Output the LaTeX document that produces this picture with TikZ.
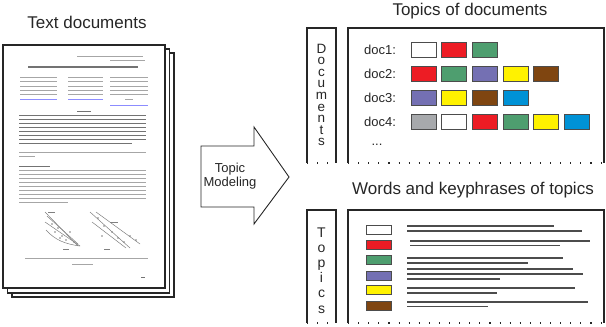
\documentclass[tikz,border=0pt]{standalone}
\usepackage{fontspec}
\setmainfont{Liberation Sans}
\definecolor{cred}{HTML}{ED1C24}
\definecolor{cgreen}{HTML}{4E9E6F}
\definecolor{cpurple}{HTML}{7470B3}
\definecolor{cyellow}{HTML}{FFF200}
\definecolor{cbrown}{HTML}{7F4510}
\definecolor{cblue}{HTML}{0092D6}
\definecolor{cgray}{HTML}{A7A9AC}
\definecolor{cwhite}{HTML}{FFFFFF}
\tikzset{
  page/.style={draw=black!85,fill=white,line width=1.1pt},
  txtline/.style={black!35,line width=0.9pt},
  darkline/.style={black!55,line width=0.9pt},
  blueline/.style={blue!45,line width=0.9pt},
  wordline/.style={black!70,line width=1.2pt},
  frame/.style={black!85,line width=1.1pt},
  dotbot/.style={black!85,line width=1.1pt,dash pattern=on 1.1pt off 9pt},
  swatch/.style={draw=black!70,line width=0.8pt,minimum width=25pt,minimum height=15pt,inner sep=0pt},
  lswatch/.style={draw=black!70,line width=0.8pt,minimum width=25pt,minimum height=9pt,inner sep=0pt},
  title/.style={font=\fontsize{17}{19}\selectfont,text=black!85,inner sep=0pt},
  lbl/.style={font=\fontsize{13}{15}\selectfont,text=black!85,inner sep=0pt},
  vlet/.style={font=\fontsize{13.5}{15}\selectfont,text=black!85,inner sep=0pt},
}
\begin{document}
\begin{tikzpicture}[x=1pt,y=-1pt]
\useasboundingbox (0,0) rectangle (606,327);
% ---------- text documents ----------
\node[title] (ttext) at (87,22) {Text documents};
\draw[page] (12,53) rectangle (174,297);
\draw[page] (7.5,49) rectangle (169.5,293);
\draw[page] (3,45) rectangle (165,288);
% header
\draw[txtline] (77,56) -- (143,56);
\draw[txtline] (110,60) -- (145,60);
% title
\draw[darkline,line width=1.2pt] (28,67) -- (138,67);
% authors
\foreach \y in {77,81,86,90,94} {
  \draw[txtline] (20,\y) -- (57,\y);
  \draw[txtline] (68,\y) -- (103,\y);
  \draw[txtline] (110,\y) -- (148,\y);
}
\draw[blueline] (20,99) -- (57,99);
\draw[blueline] (68,99) -- (103,99);
\draw[txtline] (125,99) -- (133,99);
\draw[blueline] (110,105) -- (148,105);
% abstract
\draw[darkline] (77,111) -- (91,111);
\foreach \y in {115,119,123,127,131,135,139} {\draw[darkline] (19,\y) -- (146,\y);}
\draw[darkline] (19,143) -- (132,143);
% keywords
\draw[txtline] (19,152) -- (146,152);
\draw[txtline] (19,156) -- (35,156);
% introduction
\draw[darkline] (19,166) -- (50,166);
\foreach \y in {170,174,178,182,186,190,194,198} {\draw[txtline] (19,\y) -- (146,\y);}
\draw[txtline] (19,202) -- (68,202);
% figures
\begin{scope}[black!50,line width=0.5pt]
  \draw (45,212) -- (78,246);
  \draw (47,216) -- (78,244);
  \draw (45,222) -- (80,246);
  \draw (46,230) .. controls (55,240) and (65,244) .. (80,246);
  \draw (48,212) -- (55,212);
  \foreach \p in {(52,224),(58,228),(62,236),(66,240),(70,232),(60,238),(74,242),(55,232)} {\fill \p circle (0.8pt);}
  \draw (90,212) -- (130,248);
  \draw (92,222) -- (126,248);
  \draw (96,212) -- (140,244);
  \draw (110,222) -- (118,222);
  \foreach \p in {(98,218),(104,226),(112,232),(118,238),(124,242),(130,236),(136,240),(102,236)} {\fill \p circle (0.8pt);}
  \draw (63,249) -- (69,249);
  \draw (104,249) -- (110,249);
\end{scope}
% caption
\draw[txtline] (25,258) -- (148,258);
\draw[txtline] (72,264) -- (93,264);
\draw[darkline] (141,277) -- (145,277);
% ---------- arrow ----------
\draw[black!85,line width=0.9pt,fill=white] (201,146) -- (254,146) -- (254,127) -- (289,177) -- (254,224) -- (254,207) -- (201,207) -- cycle;
\node[lbl,align=center] (tm) at (230,176) {Topic\\[-1pt]Modeling};
% ---------- topics of documents ----------
\node[title] (ttop) at (470,11) {Topics of documents};
\draw[frame] (307,163) -- (307,28) -- (336,28) -- (336,163);
\draw[dotbot] (307,163) -- (336,163);
\draw[frame] (348,163) -- (348,28) -- (604,28) -- (604,163);
\draw[dotbot] (348,163) -- (604,163);
\foreach \l [count=\i from 0] in {D,o,c,u,m,e,n,t,s} {
  \node[vlet,anchor=base] (dl\i) at (321.5,53+11.6*\i) {\l};
}
\node[lbl] (d1) at (380,50) {doc1:};
\node[lbl] (d2) at (380,74) {doc2:};
\node[lbl] (d3) at (380,98) {doc3:};
\node[lbl] (d4) at (380,122) {doc4:};
\node[lbl] (dd) at (377,145) {...};
\foreach \c [count=\i from 0] in {cwhite,cred,cgreen} {\node[swatch,fill=\c] at (423.5+30.7*\i,49.5) {};}
\foreach \c [count=\i from 0] in {cred,cgreen,cpurple,cyellow,cbrown} {\node[swatch,fill=\c] at (423.5+30.7*\i,73.5) {};}
\foreach \c [count=\i from 0] in {cpurple,cyellow,cbrown,cblue} {\node[swatch,fill=\c] at (423.5+30.7*\i,97.5) {};}
\foreach \c [count=\i from 0] in {cgray,cwhite,cred,cgreen,cyellow,cblue} {\node[swatch,fill=\c] at (423.5+30.7*\i,121.5) {};}
% ---------- words and keyphrases ----------
\node[title] (twords) at (473,190) {Words and keyphrases of topics};
\draw[frame] (307,323) -- (307,210) -- (336,210) -- (336,323);
\draw[dotbot] (307,323) -- (336,323);
\draw[frame] (348,323) -- (348,210) -- (604,210) -- (604,323);
\draw[dotbot] (348,323) -- (604,323);
\foreach \l [count=\i from 0] in {T,o,p,i,c,s} {
  \node[vlet,font=\fontsize{14}{15}\selectfont,anchor=base] (tl\i) at (321.5,237+15.2*\i) {\l};
}
\node[lswatch,fill=cwhite] (s1) at (378.5,230) {};
\node[lswatch,fill=cred] (s2) at (378.5,245) {};
\node[lswatch,fill=cgreen] (s3) at (378.5,260) {};
\node[lswatch,fill=cpurple] (s4) at (378.5,276) {};
\node[lswatch,fill=cyellow] (s5) at (378.5,290) {};
\node[lswatch,fill=cbrown] (s6) at (378.5,306) {};
\draw[wordline] (407,226) -- (554,226);
\draw[wordline] (407,231) -- (582,231);
\draw[wordline] (410,241) -- (590,241);
\draw[wordline] (410,245.5) -- (560,245.5);
\draw[wordline] (407,258) -- (563,258);
\draw[wordline] (407,263) -- (528,263);
\draw[wordline] (407,269) -- (573,269);
\draw[wordline] (407,274) -- (583,274);
\draw[wordline] (407,279) -- (500,279);
\draw[wordline] (407,288) -- (575,288);
\draw[wordline] (407,293) -- (497,293);
\draw[wordline] (407,302) -- (588,302);
\draw[wordline] (407,306.5) -- (488,306.5);
\end{tikzpicture}
\end{document}
